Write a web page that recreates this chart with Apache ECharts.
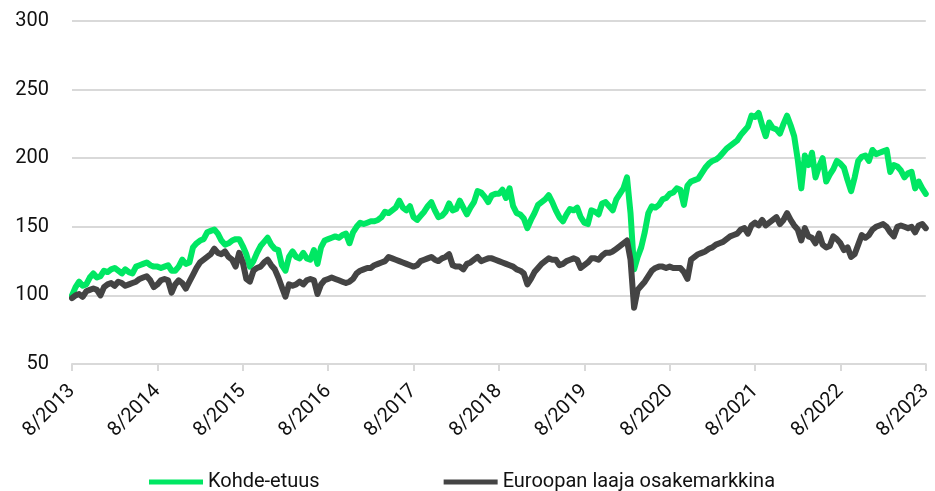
<!DOCTYPE html>
<html>
<head>
<meta charset="utf-8">
<script src="https://cdn.jsdelivr.net/npm/echarts@6/dist/echarts.min.js"></script>
<style>
  html, body { margin: 0; padding: 0; background: #fff; }
  #chart { width: 935px; height: 491px; }
</style>
</head>
<body>
<div id="chart"></div>
<script>
// x-akselin merkinnät (vuosittain elokuu)
const tickLabels = ['8/2013', '8/2014', '8/2015', '8/2016', '8/2017', '8/2018', '8/2019', '8/2020', '8/2021', '8/2022', '8/2023'];

// kohde-etuus, puolen kuukauden välein
const kohdeEtuus = [
    100, 106, 110, 107, 108, 113, 116, 113, 114, 118, 117, 119, 120, 118, 116, 119, 117, 116, 121, 122, 123, 124, 122, 121,
    121, 120, 121, 122, 118, 118, 121, 126, 123, 124, 135, 138, 140, 141, 146, 147, 148, 145, 140, 137, 138, 140, 141, 141,
    136, 130, 121, 125, 131, 136, 139, 142, 137, 134, 133, 122, 118, 128, 132, 128, 127, 131, 127, 126, 133, 123, 135, 140,
    141, 142, 143, 142, 144, 145, 138, 146, 150, 153, 152, 153, 154, 154, 155, 157, 161, 160, 162, 164, 169, 164, 162, 165,
    157, 155, 158, 161, 165, 168, 162, 157, 158, 161, 167, 162, 163, 169, 164, 159, 164, 168, 176, 175, 172, 168, 173, 174,
    174, 177, 171, 178, 165, 160, 159, 156, 149, 155, 160, 166, 168, 170, 173, 168, 162, 157, 154, 159, 163, 162, 164, 157,
    153, 152, 162, 161, 159, 167, 168, 165, 162, 170, 174, 178, 186, 160, 119, 128, 135, 146, 160, 165, 164, 166, 170, 171,
    174, 175, 178, 177, 166, 180, 183, 184, 185, 189, 193, 196, 198, 199, 201, 204, 207, 209, 211, 213, 217, 220, 223, 231,
    230, 233, 224, 216, 226, 222, 221, 218, 225, 231, 224, 216, 199, 178, 202, 195, 204, 186, 194, 200, 183, 188, 192, 198,
    196, 193, 184, 176, 186, 198, 201, 202, 198, 206, 203, 204, 205, 206, 190, 195, 194, 191, 186, 189, 190, 178, 183, 178, 174
];

// Euroopan laaja osakemarkkina
const eurooppa = [
    98, 100, 101, 99, 103, 104, 105, 104, 100, 106, 108, 109, 107, 110, 109, 107, 108, 109, 110, 112, 113, 114, 111, 106,
    108, 111, 112, 111, 102, 108, 111, 109, 105, 110, 115, 120, 124, 126, 128, 130, 134, 131, 130, 132, 128, 126, 121, 131,
    124, 112, 110, 118, 120, 121, 124, 126, 122, 119, 113, 106, 99, 108, 107, 108, 110, 108, 111, 112, 111, 101, 108, 111,
    112, 113, 112, 111, 110, 109, 110, 112, 116, 118, 119, 120, 120, 122, 123, 124, 125, 128, 127, 126, 125, 124, 123, 122,
    121, 122, 125, 126, 127, 128, 126, 125, 127, 128, 130, 122, 121, 121, 119, 123, 124, 126, 128, 125, 126, 127, 127, 126,
    125, 124, 123, 122, 121, 119, 118, 116, 108, 112, 117, 120, 123, 125, 127, 126, 126, 122, 123, 125, 126, 127, 126, 120,
    122, 124, 127, 127, 126, 129, 131, 131, 132, 134, 136, 138, 140, 126, 91, 104, 107, 110, 114, 118, 120, 121, 121, 120,
    121, 120, 120, 120, 117, 112, 126, 128, 130, 131, 132, 134, 135, 137, 138, 139, 141, 143, 144, 145, 148, 149, 145, 151,
    153, 151, 155, 151, 153, 155, 157, 152, 155, 160, 155, 151, 148, 140, 149, 143, 142, 138, 145, 137, 135, 136, 143, 141,
    138, 133, 135, 128, 130, 137, 144, 142, 144, 148, 150, 151, 152, 150, 146, 143, 150, 151, 150, 149, 150, 146, 151, 152, 149
];

// kategoriat: puolen kuukauden jaksot 8/2013 - 8/2023
const categories = [];
for (let i = 0; i < kohdeEtuus.length; i++) {
    const m = 7 + Math.floor(i / 2);
    categories.push((2013 + Math.floor(m / 12)) + '-' + (m % 12 + 1) + (i % 2 ? 'b' : 'a'));
}

const font = 'Roboto, "Liberation Sans", sans-serif';
const chart = echarts.init(document.getElementById('chart'));

chart.setOption({
    animation: false,
    grid: {
        left: 72,
        right: 6,
        top: 21,
        bottom: 127
    },
    legend: {
        left: 144,
        top: 467,
        itemWidth: 54,
        itemHeight: 5,
        itemGap: 124,
        textStyle: { fontFamily: font, fontSize: 20, color: '#111' },
        data: [
            { name: 'Kohde-etuus', icon: 'rect' },
            { name: 'Euroopan laaja osakemarkkina', icon: 'rect' }
        ]
    },
    xAxis: {
        type: 'category',
        boundaryGap: false,
        data: categories,
        axisLine: { lineStyle: { color: '#d9d9d9', width: 2 } },
        axisTick: { interval: 23, length: 7, lineStyle: { color: '#d9d9d9', width: 2 } },
        axisLabel: {
            interval: 23,
            rotate: 45,
            margin: 24,
            fontFamily: font,
            fontSize: 20,
            color: '#111',
            formatter: (v, idx) => tickLabels[Math.round(idx / 24)]
        },
        splitLine: { show: false }
    },
    yAxis: {
        type: 'value',
        min: 50,
        max: 300,
        interval: 50,
        axisLine: { show: false },
        axisTick: { show: false },
        axisLabel: { margin: 23, fontFamily: font, fontSize: 20, color: '#111' },
        splitLine: { lineStyle: { color: '#d9d9d9', width: 2 } }
    },
    series: [
        {
            name: 'Kohde-etuus',
            type: 'line',
            data: kohdeEtuus,
            showSymbol: false,
            color: '#00e763',
            lineStyle: { width: 6, cap: 'round', join: 'round' }
        },
        {
            name: 'Euroopan laaja osakemarkkina',
            type: 'line',
            data: eurooppa,
            showSymbol: false,
            color: '#444444',
            lineStyle: { width: 6, cap: 'round', join: 'round' }
        }
    ]
});
</script>
</body>
</html>
